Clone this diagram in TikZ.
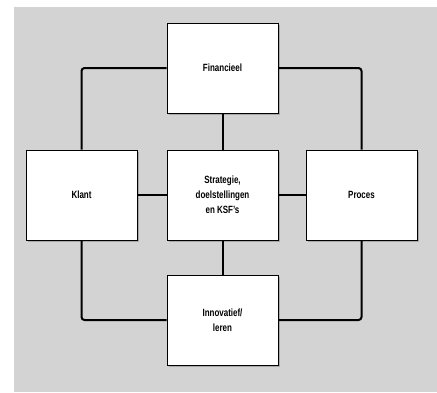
\documentclass[tikz,border=0pt]{standalone}
\usepackage{fontspec}
\setmainfont{Liberation Sans}[FakeStretch=0.76]
\usepackage{xcolor}
\usetikzlibrary{shadows}
\definecolor{panel}{RGB}{211,211,211}

\begin{document}
\begin{tikzpicture}[x=1pt, y=-1pt,
  box/.style={draw, fill=white, line width=1pt, minimum width=111pt,
              minimum height=90pt, align=center, inner sep=2pt,
              font=\fontsize{10.5}{15}\selectfont\bfseries,
              drop shadow={shadow xshift=1.8pt, shadow yshift=-1.8pt,
                           fill=black!45, opacity=0.6}},
  link/.style={line width=2pt, rounded corners=3pt}]
\useasboundingbox (0,0) rectangle (437,392);
\fill[panel] (14,7) rectangle (437,392);
% boxes
\node[box] (fin) at (222.5,68) {Financieel};
\node[box] (klant) at (81.5,195) {Klant};
\node[box] (mid) at (222.5,195) {Strategie,\\doelstellingen\\en KSF's};
\node[box] (proc) at (361.5,195) {Proces};
\node[box] (innov) at (222.5,320) {Innovatief/\\leren};
% loop round the center
\draw[link] (fin.west) -| (klant.north);
\draw[link] (fin.east) -| (proc.north);
\draw[link] (innov.west) -| (klant.south);
\draw[link] (innov.east) -| (proc.south);
% spokes
\draw[link] (fin) -- (mid);
\draw[link] (mid) -- (innov);
\draw[link] (klant) -- (mid);
\draw[link] (mid) -- (proc);
\end{tikzpicture}
\end{document}
